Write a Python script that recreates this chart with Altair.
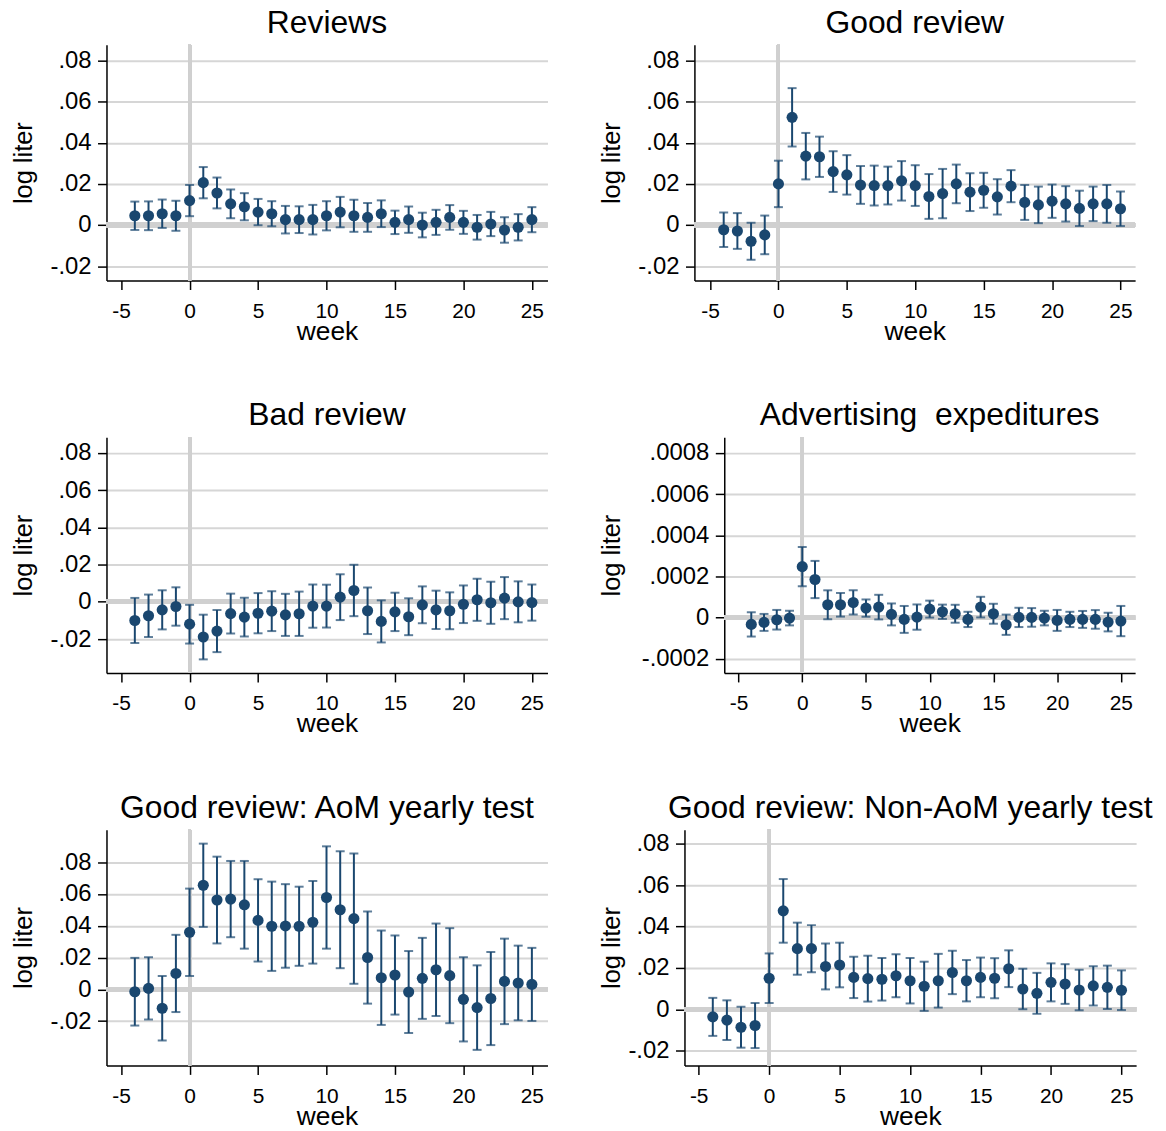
import altair as alt
import pandas as pd

# ---------------- data ----------------
weeks = [-4, -3, -2, -1, 0, 1, 2, 3, 4, 5, 6, 7, 8, 9, 10, 11, 12, 13, 14, 15,
         16, 17, 18, 19, 20, 21, 22, 23, 24, 25]

reviews_est = [.0045, .0045, .0055, .0045, .0119, .0206, .0156, .0103, .0089, .0063,
               .0055, .0026, .0026, .0026, .0045, .0063, .0045, .0037, .0055, .0013,
               .0026, .0000, .0013, .0037, .0013, -.0011, .0005, -.0024, -.0011, .0026]
reviews_ci = [.0069, .0070, .0069, .0073, .0076, .0076, .0075, .0070, .0066, .0064,
              .0061, .0067, .0065, .0072, .0071, .0074, .0078, .0070, .0065, .0057,
              .0064, .0060, .0061, .0060, .0056, .0060, .0059, .0062, .0064, .0061]

good_est = [-.0023, -.0029, -.0079, -.0048, .0200, .0524, .0335, .0332, .0260, .0244,
            .0195, .0192, .0192, .0215, .0192, .0139, .0153, .0200, .0160, .0169,
            .0137, .0189, .0110, .0098, .0116, .0103, .0081, .0103, .0103, .0079]
good_ci = [.0084, .0087, .0090, .0094, .0113, .0142, .0113, .0098, .0099, .0096,
           .0092, .0097, .0092, .0096, .0099, .0109, .0120, .0094, .0092, .0085,
           .0086, .0078, .0085, .0089, .0081, .0086, .0086, .0084, .0092, .0084]

bad_est = [-.0100, -.0075, -.0043, -.0025, -.0120, -.0189, -.0157, -.0063, -.0082, -.0061,
           -.0050, -.0070, -.0064, -.0023, -.0023, .0025, .0061, -.0048, -.0105, -.0054,
           -.0080, -.0016, -.0043, -.0048, -.0013, .0011, -.0005, .0020, .0000, -.0004]
bad_ci = [.0121, .0114, .0105, .0103, .0104, .0120, .0113, .0107, .0104, .0108,
          .0107, .0113, .0119, .0116, .0115, .0123, .0138, .0125, .0113, .0103,
          .0099, .0099, .0103, .0099, .0101, .0113, .0113, .0113, .0110, .0097]

adv_est = [-0.323e-4, -0.226e-4, -0.097e-4, -0.016e-4, 2.480e-4, 1.855e-4, 0.629e-4, 0.629e-4,
           0.742e-4, 0.468e-4, 0.516e-4, 0.161e-4, -0.081e-4, 0.032e-4, 0.419e-4, 0.290e-4,
           0.194e-4, -0.081e-4, 0.516e-4, 0.194e-4, -0.339e-4, 0.016e-4, 0.016e-4, -0.016e-4,
           -0.129e-4, -0.081e-4, -0.081e-4, -0.081e-4, -0.210e-4, -0.161e-4]
adv_ci = [0.589e-4, 0.411e-4, 0.476e-4, 0.355e-4, 0.952e-4, 0.903e-4, 0.702e-4, 0.573e-4,
          0.589e-4, 0.419e-4, 0.597e-4, 0.532e-4, 0.653e-4, 0.613e-4, 0.411e-4, 0.347e-4,
          0.435e-4, 0.371e-4, 0.500e-4, 0.484e-4, 0.492e-4, 0.468e-4, 0.452e-4, 0.355e-4,
          0.508e-4, 0.371e-4, 0.411e-4, 0.452e-4, 0.452e-4, 0.734e-4]

aom_est = [-.0015, .0006, -.0119, .0100, .0359, .0655, .0562, .0568, .0532, .0434,
           .0397, .0399, .0397, .0422, .0578, .0501, .0445, .0200, .0073, .0090,
           -.0017, .0069, .0123, .0086, -.0063, -.0115, -.0058, .0050, .0040, .0031]
aom_ci = [.0213, .0196, .0203, .0243, .0275, .0262, .0273, .0240, .0276, .0259,
          .0281, .0263, .0249, .0260, .0322, .0368, .0410, .0290, .0297, .0249,
          .0258, .0255, .0291, .0299, .0265, .0266, .0293, .0269, .0235, .0230]

nonaom_est = [-.0037, -.0053, -.0087, -.0079, .0150, .0476, .0293, .0293, .0207, .0214,
              .0154, .0148, .0145, .0162, .0138, .0111, .0138, .0178, .0138, .0154,
              .0150, .0196, .0098, .0077, .0130, .0122, .0093, .0113, .0106, .0092]
nonaom_ci = [.0092, .0096, .0099, .0109, .0120, .0154, .0126, .0114, .0111, .0108,
             .0100, .0111, .0103, .0104, .0110, .0119, .0130, .0105, .0100, .0096,
             .0097, .0089, .0098, .0099, .0092, .0096, .0098, .0095, .0105, .0096]

x_ticks = [-5, 0, 5, 10, 15, 20, 25]
x_labels = ["-5", "0", "5", "10", "15", "20", "25"]
y_ticks = [-0.02, 0.0, 0.02, 0.04, 0.06, 0.08]
y_labels = ["-.02", "0", ".02", ".04", ".06", ".08"]
y_ticks_adv = [-0.0002, 0.0, 0.0002, 0.0004, 0.0006, 0.0008]
y_labels_adv = ["-.0002", "0", ".0002", ".0004", ".0006", ".0008"]

titles = ["Reviews", "Good review", "Bad review", "Advertising\u00a0 expeditures",
          "Good review: AoM yearly test", "Good review: Non-AoM yearly test"]

# ---------------- styling ----------------
FONT = "Liberation Sans"
NAVY = "#1a476f"
GRID = "#d6d6d6"
PLOT_H = 237


def label_expr(values, labels):
    parts = [f"datum.value == {v!r} ? '{l}'" for v, l in zip(values, labels)]
    return " : ".join(parts) + " : ''"


def panel(title, est, ci, xdom, ydom, yvals, ylabs, width, yext, ytpad):
    df = pd.DataFrame({
        "week": weeks,
        "est": est,
        "lo": [e - c for e, c in zip(est, ci)],
        "hi": [e + c for e, c in zip(est, ci)],
    })
    xscale = alt.Scale(domain=xdom, nice=False, zero=False)
    yscale = alt.Scale(domain=ydom, nice=False, zero=False)
    xaxis = alt.Axis(
        values=x_ticks, labelExpr=label_expr(x_ticks, x_labels), title="week",
        grid=False, tickSize=9, tickWidth=1.5, tickColor="black",
        domainColor="black", domainWidth=1.5, labelFont=FONT, labelFontSize=21,
        labelColor="black", labelPadding=10.8, labelFlush=False, labelOverlap=False,
        titleFont=FONT, titleFontSize=26.5, titleFontWeight="normal", titleColor="black",
        minExtent=37, maxExtent=37, titlePadding=1.3,
    )
    yaxis = alt.Axis(
        values=yvals, labelExpr=label_expr(yvals, ylabs), title="log liter",
        grid=True, gridColor=GRID, gridWidth=2, tickSize=9, tickWidth=1.5,
        tickColor="black", domainColor="black", domainWidth=1.5, labelFont=FONT,
        labelFontSize=24, labelColor="black", labelPadding=6.5, labelOverlap=False,
        labelFlush=False,
        titleFont=FONT, titleFontSize=25.5, titleFontWeight="normal", titleColor="black",
        minExtent=yext, maxExtent=yext, titlePadding=ytpad,
    )
    base = alt.Chart(df)
    zero_line = base.mark_rule(color="#d0d0d0", strokeWidth=4.5).encode(
        y=alt.Y(datum=0, scale=yscale, axis=yaxis)
    )
    vline = base.mark_rule(color="#d0d0d0", strokeWidth=3).encode(
        x=alt.X(datum=0, scale=xscale, axis=xaxis)
    )
    bars = base.mark_rule(color=NAVY, strokeWidth=2).encode(
        x=alt.X("week:Q", scale=xscale, axis=xaxis),
        y=alt.Y("lo:Q", scale=yscale, axis=yaxis),
        y2="hi:Q",
    )
    cap_lo = base.mark_tick(color=NAVY, orient="horizontal", size=9, thickness=2).encode(
        x=alt.X("week:Q", scale=xscale, axis=xaxis),
        y=alt.Y("lo:Q", scale=yscale, axis=yaxis),
    )
    cap_hi = base.mark_tick(color=NAVY, orient="horizontal", size=9, thickness=2).encode(
        x=alt.X("week:Q", scale=xscale, axis=xaxis),
        y=alt.Y("hi:Q", scale=yscale, axis=yaxis),
    )
    points = base.mark_circle(color=NAVY, size=125, opacity=1).encode(
        x=alt.X("week:Q", scale=xscale, axis=xaxis),
        y=alt.Y("est:Q", scale=yscale, axis=yaxis),
    )
    return alt.layer(zero_line, vline, bars, cap_lo, cap_hi, points).properties(
        width=width, height=PLOT_H,
        title=alt.TitleParams(text=title, font=FONT, fontSize=32, fontWeight="normal",
                              color="black", anchor="middle", frame="group",
                              baseline="bottom", offset=-28.5),
    )


p1 = panel(titles[0], reviews_est, reviews_ci, [-6.07, 26.14], [-0.027, 0.0877],
           y_ticks, y_labels, 443.3, 60, 10.7)
p2 = panel(titles[1], good_est, good_ci, [-6.14, 26.07], [-0.027, 0.0877],
           y_ticks, y_labels, 443, 60, 10.5)
p3 = panel(titles[2], bad_est, bad_ci, [-6.07, 26.14], [-0.0382, 0.0884],
           y_ticks, y_labels, 443.3, 60, 10.7)
p4 = panel(titles[3], adv_est, adv_ci, [-6.12, 26.12], [-0.000268, 0.000876],
           y_ticks_adv, y_labels_adv, 413, 90, 10.5)
p5 = panel(titles[4], aom_est, aom_ci, [-6.07, 26.14], [-0.0479, 0.1005],
           y_ticks, y_labels, 443.3, 60, 10.7)
p6 = panel(titles[5], nonaom_est, nonaom_ci, [-6.01, 26.04], [-0.0272, 0.0869],
           y_ticks, y_labels, 454, 50, 10.5)

row1 = alt.hconcat(p1, p2, spacing=49)
row2 = alt.hconcat(p3, p4, spacing=49)
row3 = alt.hconcat(p5, p6, spacing=49)

chart = alt.vconcat(row1, row2, row3, spacing=54.5).properties(
    padding={"left": 3, "top": -4, "right": 5, "bottom": 5},
    background="white",
).configure_view(strokeWidth=0)

chart.save("out.html", embed_options={"renderer": "svg", "actions": False})
